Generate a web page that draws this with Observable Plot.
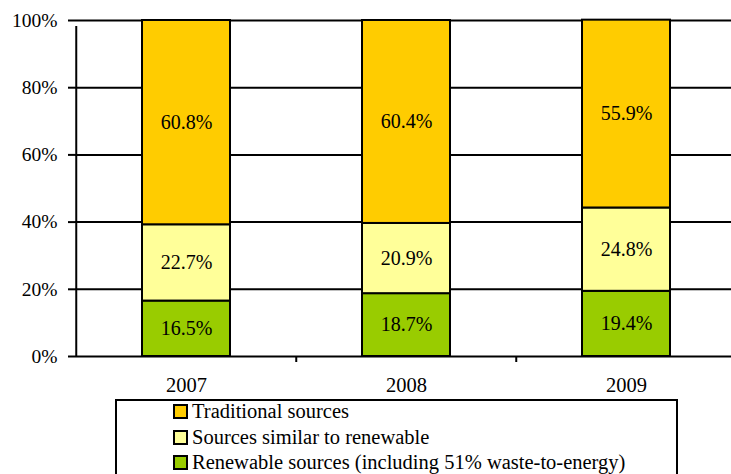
<!DOCTYPE html>
<html><head><meta charset="utf-8">
<script src="https://cdn.jsdelivr.net/npm/d3@7"></script>
<script src="https://cdn.jsdelivr.net/npm/@observablehq/plot@0.6"></script>
<style>
body{margin:0;background:#fff;font-family:"Liberation Serif","DejaVu Serif","Times New Roman",serif;}
#wrap{position:relative;width:731px;height:474px;overflow:hidden;}
#legend{position:absolute;left:115px;top:399px;width:563px;height:90px;border:2px solid #000;background:#fff;box-sizing:border-box;}
.row{position:absolute;left:56px;font-size:20.5px;line-height:21px;white-space:nowrap;color:#000;}
.sw{display:inline-block;width:11px;height:11px;border:2px solid #000;margin-right:4px;vertical-align:-1px;}
</style></head>
<body><div id="wrap"><div id="chart"></div><div id="legend"></div></div>
<script>
const years = ["2007", "2008", "2009"];
const seriesNames = ["Renewable sources (including 51% waste-to-energy)", "Sources similar to renewable", "Traditional sources"];
const renewable = [16.5, 18.7, 19.4];
const similar = [22.7, 20.9, 24.8];
const traditional = [60.8, 60.4, 55.9];
const colors = ["#99CC00", "#FFFF99", "#FFCC00"];
const yTicks = [0, 20, 40, 60, 80, 100];

const rows = [];
years.forEach((y, i) => {
  rows.push({year: y, series: seriesNames[0], value: renewable[i]});
  rows.push({year: y, series: seriesNames[1], value: similar[i]});
  rows.push({year: y, series: seriesNames[2], value: traditional[i]});
});
const font = "'Liberation Serif', 'DejaVu Serif', 'Times New Roman', serif";
const half = 110.25;

const chart = Plot.plot({
  width: 731, height: 474,
  marginTop: 20, marginBottom: 118, marginLeft: 75, marginRight: 0,
  style: {fontFamily: font, fontSize: "19px", background: "transparent"},
  x: {domain: years, range: [75, 736.5], paddingInner: 0.6, paddingOuter: 0.3, axis: null},
  y: {domain: [0, 100], axis: null},
  color: {domain: seriesNames, range: colors},
  marks: [
    Plot.ruleY(yTicks, {stroke: "#000", strokeWidth: 2}),
    Plot.barY(rows, {x: "year", y: "value", fill: "series", stroke: "#000", strokeWidth: 2, order: seriesNames}),
    Plot.text(rows, Plot.stackY({x: "year", y: "value", z: "series", order: seriesNames, text: d => d.value.toFixed(1) + "%", fill: "#000", fontSize: 20, fontFamily: font})),
    Plot.ruleX([years[0]], {x: d => d, y1: 0, y2: 100, dx: -half, stroke: "#000", strokeWidth: 2, insetBottom: -6}),
    Plot.ruleX(years.slice(1), {x: d => d, y1: 0, y2: 0, dx: -half, stroke: "#000", strokeWidth: 2, insetBottom: -6}),
    Plot.axisY({ticks: yTicks, label: null, tickFormat: d => d + "%", tickSize: 7, tickPadding: 11, strokeWidth: 2, fontSize: 19.5, fontFamily: font, fill: "#000", stroke: "#000"}),
    Plot.axisX({label: null, tickSize: 0, tickPadding: 21, fontSize: 20.5, fontFamily: font, fill: "#000"})
  ]
});
document.getElementById("chart").appendChild(chart);

const leg = document.getElementById("legend");
const legendOrder = [2, 1, 0];
legendOrder.forEach((k, j) => {
  const r = document.createElement("div");
  r.className = "row";
  r.style.top = (0 + j * 25.5) + "px";
  r.innerHTML = '<span class="sw" style="background:' + colors[k] + '"></span>';
  r.appendChild(document.createTextNode(seriesNames[k]));
  leg.appendChild(r);
});
</script></body></html>
